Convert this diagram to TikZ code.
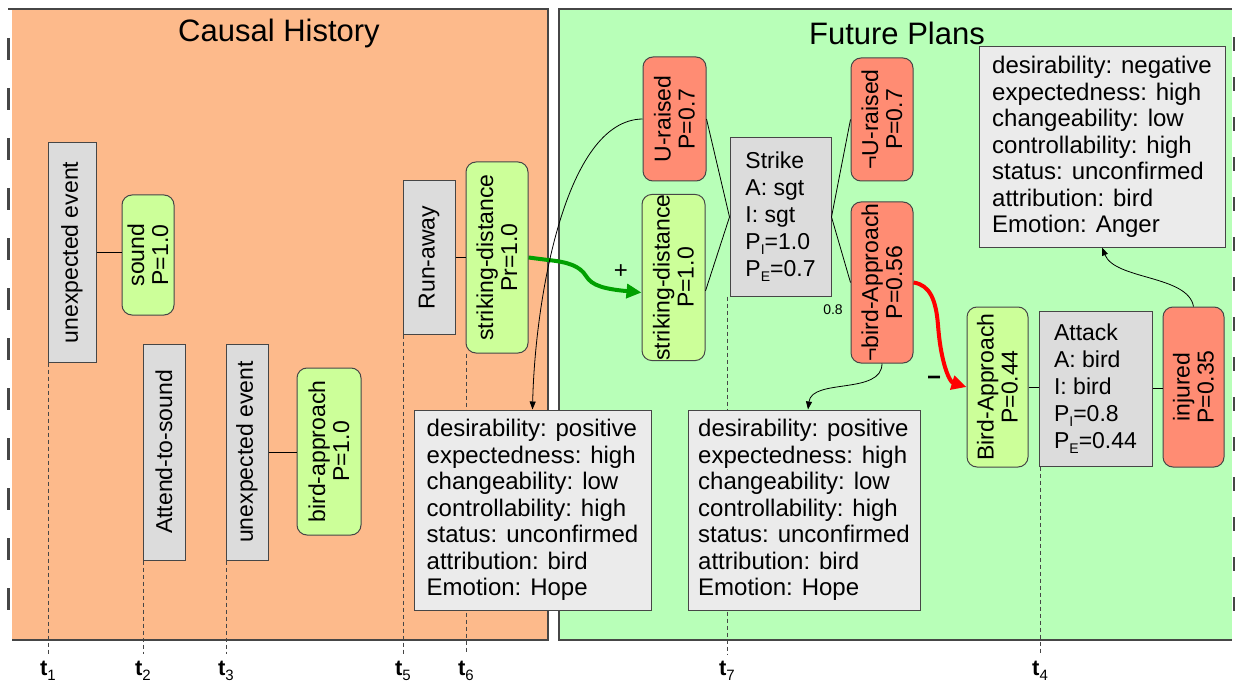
\documentclass[tikz,border=0pt]{standalone}
\usepackage{fontspec}
\setmainfont{Liberation Sans}
\usetikzlibrary{arrows.meta,calc}
\definecolor{panelorange}{RGB}{253,186,139}
\definecolor{panelgreen}{RGB}{184,255,184}
\definecolor{nodegray}{RGB}{220,220,220}
\definecolor{infogray}{RGB}{235,235,235}
\definecolor{nodegreen}{RGB}{204,255,153}
\definecolor{nodered}{RGB}{255,140,115}
\definecolor{bordergray}{RGB}{70,70,70}
\definecolor{arrowgreen}{RGB}{0,160,0}
\definecolor{arrowred}{RGB}{255,0,0}
\pgfdeclarelayer{bg}
\pgfdeclarelayer{mid}
\pgfsetlayers{bg,mid,main}
\newcommand{\sbs}[1]{\raisebox{-5pt}{\fontsize{14}{14}\selectfont #1}}
\newcommand{\tsub}[1]{\raisebox{-5pt}{\fontsize{15}{15}\selectfont\mdseries #1}}
\begin{document}
\begin{tikzpicture}[x=1pt,y=-1pt,
  base/.style={draw=bordergray, line width=1pt, inner sep=0pt, align=center,
    font=\fontsize{23}{24}\selectfont},
  grayv/.style={base, fill=nodegray, rotate=90},
  greenv/.style={base, fill=nodegreen, rounded corners=10pt, rotate=90},
  redv/.style={base, fill=nodered, rounded corners=10pt, rotate=90},
  vbox/.style 2 args={minimum width=#2, minimum height=#1},
  graybox/.style={draw=bordergray, line width=1pt, fill=nodegray, inner sep=0pt,
    align=left, font=\fontsize{23}{27}\selectfont},
  infobox/.style={draw=bordergray, line width=1pt, fill=infogray, inner sep=0pt,
    align=left, font=\fontsize{24}{26.5}\selectfont},
  title/.style={font=\fontsize{31}{31}\selectfont, inner sep=0pt},
  tlabel/.style={font=\fontsize{22}{22}\selectfont\bfseries, inner sep=0pt, anchor=base},
  tline/.style={draw=bordergray, line width=0.9pt, dash pattern=on 4pt off 3pt},
  link/.style={draw=black, line width=0.8pt},
  blackarrow/.style={draw=black, line width=0.8pt, -{Triangle[length=8pt,width=6pt]}},
  edgedash/.style={draw=bordergray, line width=3pt},
  panelline/.style={draw=bordergray, line width=2pt}
]
\useasboundingbox (0,0) rectangle (1235,682);

% panels
\begin{pgfonlayer}{bg}
  \fill[white] (0,0) rectangle (1235,682);
  \fill[panelorange] (12,9) rectangle (548,640);
  \fill[panelgreen] (559,9) rectangle (1232,640);
  \draw[panelline] (8,9) -- (548,9) -- (548,640) -- (12,640);
  \draw[panelline] (1232,9) -- (559,9) -- (559,640) -- (1232,640);
  \draw[edgedash, dash pattern=on 22pt off 28pt] (8,38) -- (8,620);
  \draw[edgedash, dash pattern=on 14pt off 26pt] (1234,37) -- (1234,620);
\end{pgfonlayer}

\node[title] (tcausal) at (279,33) {Causal History};
\node[title] (tfuture) at (897,33) {Future Plans};

% causal history nodes
\node[grayv, vbox={48}{219}] (ue1) at (72,252.5) {unexpected event};
\node[greenv, vbox={52}{120}] (sound) at (148,255) {sound\\P=1.0};
\node[grayv, vbox={42}{216}] (att) at (164,452) {Attend-to-sound};
\node[grayv, vbox={42}{216}] (ue2) at (247,452) {unexpected event};
\node[greenv, vbox={64}{167}] (bapp) at (329,451.5) {bird-approach\\P=1.0};
\node[grayv, vbox={52}{153}] (run) at (429,257.5) {Run-away};
\node[greenv, vbox={62}{191}] (sd1) at (497,257.5) {striking-distance\\Pr=1.0};

% future plans nodes
\node[redv, vbox={63}{124}] (ur) at (674.5,119) {U-raised\\P=0.7};
\node[greenv, vbox={63}{153}] (sd2) at (673.5,277.5) {striking-distance\\P=1.0};
\node[graybox, minimum width=101, minimum height=158] (strike) at (780.5,217)
  {Strike\\A: sgt\\I: sgt\\P\sbs{I}=1.0\\P\sbs{E}=0.7};
\node[redv, vbox={62}{123}] (nur) at (882,119.5) {¬U-raised\\P=0.7};
\node[redv, vbox={62}{161}] (nba) at (882,282.5) {¬bird-Approach\\P=0.56};
\node[greenv, vbox={61}{160}] (ba) at (997.5,387) {Bird-Approach\\P=0.44};
\node[graybox, minimum width=113, minimum height=155] (attack) at (1095.5,388.5)
  {Attack\\A: bird\\I: bird\\P\sbs{I}=0.8\\P\sbs{E}=0.44};
\node[redv, vbox={61}{160}] (inj) at (1193.5,387) {injured\\P=0.35};

% info boxes
\node[infobox, minimum width=237, minimum height=200] (info1) at (532.5,510)
  {desirability: positive\\expectedness: high\\changeability: low\\controllability: high\\status: unconfirmed\\attribution: bird\\Emotion: Hope};
\node[infobox, minimum width=232, minimum height=200] (info3) at (804,510)
  {desirability: positive\\expectedness: high\\changeability: low\\controllability: high\\status: unconfirmed\\attribution: bird\\Emotion: Hope};
\node[infobox, minimum width=246, minimum height=200] (info2) at (1102,147)
  {desirability: negative\\expectedness: high\\changeability: low\\controllability: high\\status: unconfirmed\\attribution: bird\\Emotion: Anger};

% small labels
\node[font=\fontsize{14}{14}\selectfont, inner sep=0pt] (p08) at (833,310) {0.8};
\node[font=\fontsize{24}{24}\selectfont, inner sep=0pt] (plus) at (621,272) {+};
\node[font=\fontsize{24}{24}\selectfont\bfseries, inner sep=0pt] (minus) at (934,381) {−};

% timeline labels
\node[tlabel] (t1) at (48,675) {t\tsub{1}};
\node[tlabel] (t2) at (143,675) {t\tsub{2}};
\node[tlabel] (t3) at (226,675) {t\tsub{3}};
\node[tlabel] (t5) at (403,675) {t\tsub{5}};
\node[tlabel] (t6) at (466,675) {t\tsub{6}};
\node[tlabel] (t7) at (727,675) {t\tsub{7}};
\node[tlabel] (t4) at (1040,675) {t\tsub{4}};

\begin{pgfonlayer}{mid}
  \draw[tline, shorten >=6pt] (t1.north |- ue1.west) -- (t1.north);
  \draw[tline, shorten >=6pt] (t2.north |- att.west) -- (t2.north);
  \draw[tline, shorten >=6pt] (t3.north |- ue2.west) -- (t3.north);
  \draw[tline, shorten >=6pt] (t5.north |- run.west) -- (t5.north);
  \draw[tline, shorten >=6pt] (t6.north |- sd1.west) -- (t6.north);
  \draw[tline, shorten >=6pt] (t7.north |- strike.south) -- (t7.north);
  \draw[tline, shorten >=6pt] (t4.north |- attack.south) -- (t4.north);
\end{pgfonlayer}

% plain links
\draw[link] (ue1.south) -- (ue1.south -| sound.north);
\draw[link] (ue2.south) -- (ue2.south -| bapp.north);
\draw[link] (run.south) -- (run.south -| sd1.north);
\coordinate (sd2out) at ($(sd2.south west)!0.42!(sd2.south east)$);
\coordinate (sd2in) at ($(sd2.north west)!0.41!(sd2.north east)$);
\draw[link] (ur.south) -- (strike.west);
\draw[link] (sd2out) -- (strike.west);
\draw[link] (strike.east) -- (nur.north);
\draw[link] (strike.east) -- (nba.north);
\draw[link] (ba.south) -- (ba.south -| attack.west);
\draw[link] (attack.east) -- (attack.east -| inj.north);

% thick arrows
\draw[draw=arrowgreen, line width=4pt, -{Triangle[length=15pt,width=14pt]}]
  (sd1.south) -- (548,260) .. controls (568,262) and (580,266) .. (586,276)
  .. controls (592,286) and (605,289) .. (sd2in);
\draw[draw=arrowred, line width=4pt, -{Triangle[length=15pt,width=14pt]}]
  (nba.south) .. controls (930,285) and (936,300) .. (938,325)
  .. controls (941,365) and (950,382) .. (ba.north);

% thin curved arrows
\draw[blackarrow] (ur.north) .. controls (565,120) and (535,300) .. (info1.north);
\draw[blackarrow] (nba.west) .. controls (882,395) and (812,378) .. ($(info3.north)+(4,0)$);
\draw[blackarrow] (inj.east) .. controls (1188,275) and (1115,280) .. (info2.south);
\end{tikzpicture}
\end{document}
